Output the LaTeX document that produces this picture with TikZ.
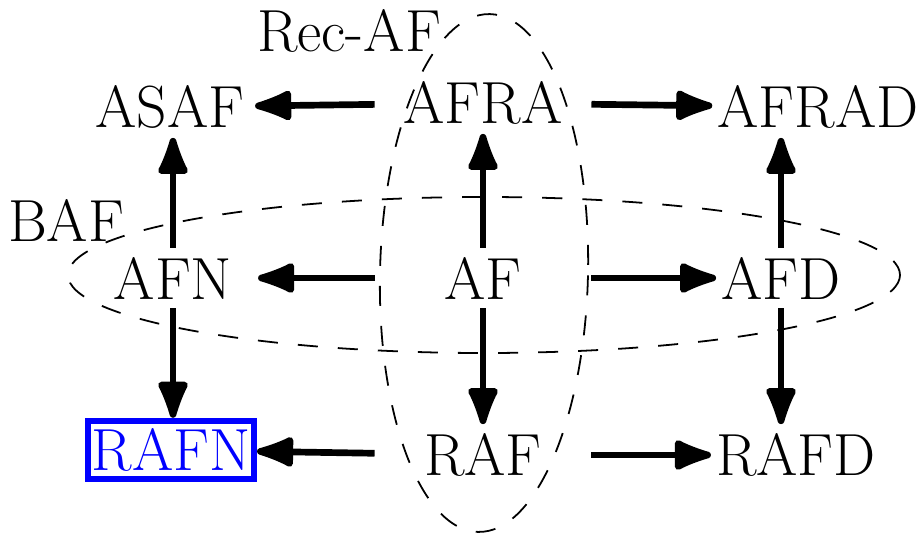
\documentclass[tikz,border=0pt]{standalone}
\usetikzlibrary{arrows.meta}
\begin{document}
\begin{tikzpicture}[x=0.449pt,y=-0.449pt,font=\fontsize{26.7}{32}\selectfont,
  lbl/.style={inner xsep=2.2pt,inner ysep=4pt},
  mid/.style={lbl,minimum width=97pt},
  lft/.style={lbl,minimum width=76pt},
  goal/.style={draw=blue,text=blue,line width=2.8pt,inner xsep=1.6pt,inner ysep=3.4pt},
  flow/.style={line width=3pt,-{Latex[length=21pt,width=15.5pt,round]}},
  grp/.style={dash pattern=on 9pt off 9pt,line width=0.8pt}]
\useasboundingbox (0,0) rectangle (923,535);

% group outlines
\draw[grp,rotate around={-1.3:(484,273)}] (484,273) ellipse [x radius=104,y radius=259];
\draw[grp] (484,275) ellipse [x radius=416,y radius=78];
\node (recaf) at (349,31) {Rec-AF};
\node (baf) at (66,220) {BAF};

% semantics
\node[lft] (ASAF)  at (170,107) {ASAF};
\node[mid] (AFRA)  at (483,103) {AFRA};
\node[lbl] (AFRAD) at (818,107) {AFRAD};
\node[lft] (AFN)   at (173,278) {AFN};
\node[mid] (AF)    at (483,278) {AF};
\node[lbl] (AFD)   at (781,278) {AFD};
\node[goal] (RAFN) at (171,450) {RAFN};
\node[mid] (RAF)   at (483,455) {RAF};
\node[lbl] (RAFD)  at (796,455) {RAFD};

% relations
\draw[flow] (AFRA) -- (ASAF);
\draw[flow] (AFRA) -- (AFRAD);
\draw[flow] (AF) -- (AFN);
\draw[flow] (AF) -- (AFD);
\draw[flow] (RAF) -- (RAFN);
\draw[flow] (RAF) -- (RAFD);
\draw[flow] (AF) -- (AFRA);
\draw[flow] (AF) -- (RAF);
\draw[flow] (AFN) -- (AFN |- ASAF.south);
\draw[flow] (AFN) -- (AFN |- RAFN.north);
\draw[flow] (AFD) -- (AFD |- AFRAD.south);
\draw[flow] (AFD) -- (AFD |- RAFD.north);
\end{tikzpicture}
\end{document}
